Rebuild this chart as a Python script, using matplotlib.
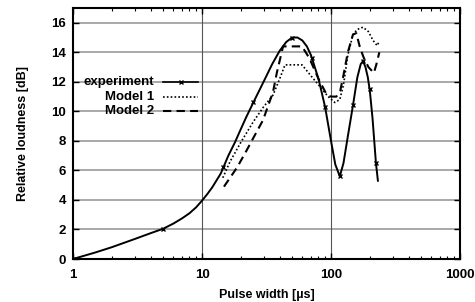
import matplotlib
matplotlib.use("Agg")
import matplotlib.pyplot as plt
from matplotlib.lines import Line2D
from matplotlib.ticker import FixedLocator, NullFormatter

plt.rcParams['font.family'] = ['Liberation Sans', 'DejaVu Sans']

# Experiment curve
exp_x = [1, 1.5, 2, 3, 4, 5, 6, 7, 8, 9, 10, 11, 12, 14, 16, 18, 20, 22, 25, 30, 35, 40, 45, 50,
         55, 60, 65, 70, 80, 90, 100, 108, 117, 125, 135, 148, 160, 170, 177, 185, 193, 200, 210, 223, 231]
exp_y = [0, 0.45, 0.8, 1.35, 1.75, 2.05, 2.4, 2.75, 3.1, 3.5, 3.95, 4.4, 4.85, 5.8, 7.0, 7.9, 8.8, 9.6,
         10.6, 12.0, 13.2, 14.1, 14.7, 15.0, 15.0, 14.8, 14.4, 13.8, 12.2, 10.3, 8.0, 6.4, 5.6, 6.5, 8.3,
         10.4, 12.3, 13.2, 13.4, 13.0, 12.3, 11.4, 9.5, 6.5, 5.3]
# Experiment measurement markers
mk_x = [1, 5, 14.5, 24.8, 50, 71, 90, 117, 148, 177, 200, 223]
mk_y = [0, 2.05, 6.2, 10.6, 15.0, 13.6, 10.3, 5.6, 10.4, 13.4, 11.5, 6.5]

# Model 1 (dotted)
m1_x = [14.5, 16.5, 20, 25, 30, 35.5, 40, 44, 50, 59.6, 70, 80, 87, 95, 107, 117, 125, 135, 148,
        160, 177, 195, 212, 228, 235]
m1_y = [5.5, 6.6, 7.9, 9.3, 10.3, 11.1, 12.2, 13.15, 13.15, 13.15, 12.4, 11.8, 11.4, 11.0, 10.6,
        10.8, 11.8, 13.8, 15.2, 15.55, 15.7, 15.4, 14.8, 14.45, 14.7]

# Model 2 (dashed)
m2_x = [14.8, 18.7, 22, 25, 29.7, 35.5, 38, 42.5, 50, 59.6, 68, 80, 93, 100, 110, 118, 124, 135,
        148, 157, 168, 180, 195, 215, 225, 237]
m2_y = [4.9, 6.2, 7.3, 8.2, 9.4, 11.3, 12.6, 14.4, 14.4, 14.4, 13.6, 12.2, 11.1, 11.0, 11.0, 11.4,
        12.3, 14.0, 15.2, 15.3, 14.3, 13.6, 13.0, 12.6, 13.2, 14.0]

labels = ["experiment", "Model 1", "Model 2"]
y_ticks = [0, 2, 4, 6, 8, 10, 12, 14, 16]
x_ticks = [1, 10, 100, 1000]
x_ticklabels = ["1", "10", "100", "1000"]

fig = plt.figure(figsize=(4.75, 3.02), dpi=100)
ax = fig.add_axes([73/475, 43/302, 387/475, 251/302])

ax.set_xscale('log')
ax.set_xlim(1, 1000)
ax.set_ylim(0, 17)

# grid
for yv in y_ticks[1:]:
    ax.axhline(yv, color='#9a9a9a', lw=1.2, zorder=0)
for xv in x_ticks[1:-1]:
    ax.axvline(xv, color='#555555', lw=0.8, zorder=0)

ax.plot(exp_x, exp_y, color='black', lw=1.4, zorder=3)
ax.plot(mk_x, mk_y, ls='none', marker='x', ms=3, mew=1.0, color='black', zorder=4)
ax.plot(m1_x, m1_y, color='black', lw=1.2, ls=(0, (1, 1.3)), zorder=3)
ax.plot(m2_x, m2_y, color='black', lw=1.5, ls=(0, (4, 2.5)), zorder=3)

ax.set_yticks(y_ticks)
ax.xaxis.set_major_locator(FixedLocator(x_ticks))
ax.set_xticklabels(x_ticklabels)
minors = [m * 10**d for d in range(0, 3) for m in range(2, 10)]
ax.xaxis.set_minor_locator(FixedLocator(minors))
ax.xaxis.set_minor_formatter(NullFormatter())

ax.tick_params(which='both', direction='in', top=True, right=True, labelsize=9.5)
ax.tick_params(which='major', length=4, width=1.0)
ax.tick_params(which='minor', length=2.5, width=0.8)
for lab in ax.get_xticklabels() + ax.get_yticklabels():
    lab.set_fontweight('bold')
ax.tick_params(axis='y', pad=5)
ax.tick_params(axis='x', pad=7)

for s in ax.spines.values():
    s.set_linewidth(1.5)

ax.set_xlabel("Pulse width [µs]", fontsize=9, fontweight='bold', labelpad=6)
ax.set_ylabel("Relative loudness [dB]", fontsize=9, fontweight='bold', labelpad=16)

# legend (manual, gnuplot style)
ly = [0.705, 0.645, 0.59]
styles = [dict(ls='-', lw=1.2), dict(ls=(0, (1, 1.3)), lw=1.2), dict(ls=(0, (4, 2.5)), lw=1.5)]
for lab, yy, st in zip(labels, ly, styles):
    ax.text(0.209, yy, lab, transform=ax.transAxes, ha='right', va='center',
            fontsize=9.5, fontweight='bold', zorder=5)
    ax.add_line(Line2D([0.233, 0.323], [yy, yy], transform=ax.transAxes, color='black', zorder=5, **st))
ax.add_line(Line2D([0.278], [ly[0]], transform=ax.transAxes, marker='x', ms=3, mew=1.0,
                   color='black', ls='none', zorder=6))

fig.savefig("out.png", dpi=100)
